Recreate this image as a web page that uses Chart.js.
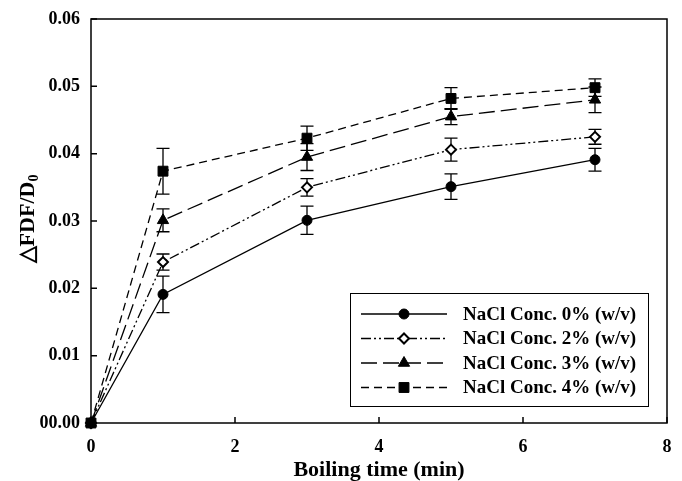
<!DOCTYPE html>
<html><head><meta charset="utf-8">
<script src="https://cdn.jsdelivr.net/npm/chart.js@4/dist/chart.umd.min.js"></script>
<style>html,body{margin:0;padding:0;background:#fff}#wrap{width:682px;height:481px;position:relative}</style>
</head><body><div id="wrap"><canvas id="c"></canvas></div>
<script>
// ---- data ----
const times = [0, 1, 3, 5, 7];
const seriesLabels = ['NaCl Conc. 0% (w/v)', 'NaCl Conc. 2% (w/v)', 'NaCl Conc. 3% (w/v)', 'NaCl Conc. 4% (w/v)'];
const conc0 = [0, 0.0191, 0.0301, 0.0351, 0.0391];
const conc0Err = [0, 0.0027, 0.0021, 0.0019, 0.0017];
const conc2 = [0, 0.0239, 0.0350, 0.0406, 0.0425];
const conc2Err = [0, 0.0012, 0.0013, 0.0017, 0.0011];
const conc3 = [0, 0.0301, 0.0395, 0.0455, 0.0480];
const conc3Err = [0, 0.0017, 0.0020, 0.0012, 0.0019];
const conc4 = [0, 0.0374, 0.0423, 0.0482, 0.0498];
const conc4Err = [0, 0.0034, 0.0018, 0.0016, 0.0013];
const xTickValues = [0, 2, 4, 6, 8];
const yTickValues = [0, 0.01, 0.02, 0.03, 0.04, 0.05, 0.06];
const yTickLabels = ['00.00', '0.01', '0.02', '0.03', '0.04', '0.05', '0.06'];
const xTitle = 'Boiling time (min)';
const yTitleMain = '\u25B3FDF/D';
const yTitleSub = '0';

// ---- styles ----
const SERIF = '"Liberation Serif", "Times New Roman", serif';
const styles = [
  {pointStyle: 'circle', radius: 5, fill: '#000', dash: []},
  {pointStyle: 'rectRot', radius: 5, fill: '#fff', dash: [10, 3, 2, 3, 2, 3]},
  {pointStyle: 'triangle', radius: 6.5, fill: '#000', dash: [16, 6]},
  {pointStyle: 'rect', radius: 7, fill: '#000', dash: [8, 5]}
];
const values = [conc0, conc2, conc3, conc4];
const errors = [conc0Err, conc2Err, conc3Err, conc4Err];

const datasets = values.map((vals, i) => ({
  label: seriesLabels[i],
  data: times.map((t, j) => ({x: t, y: vals[j]})),
  errs: errors[i],
  borderColor: '#000',
  borderWidth: 1.3,
  borderDash: styles[i].dash,
  pointStyle: styles[i].pointStyle,
  pointRadius: styles[i].radius,
  pointBackgroundColor: styles[i].fill,
  pointBorderColor: '#000',
  pointBorderWidth: i === 1 ? 2 : 1,
  tension: 0,
  fill: false,
  clip: false
}));

const framePlugin = {
  id: 'frame',
  beforeDatasetsDraw(chart) {
    const ctx = chart.ctx;
    const xs = chart.scales.x, ys = chart.scales.y;
    ctx.save();
    ctx.strokeStyle = '#000';
    ctx.lineWidth = 1.3;
    ctx.setLineDash([]);
    chart.data.datasets.forEach(ds => {
      ds.data.forEach((p, j) => {
        const e = ds.errs[j];
        if (!e) return;
        const x = xs.getPixelForValue(p.x);
        const y1 = ys.getPixelForValue(p.y + e);
        const y2 = ys.getPixelForValue(p.y - e);
        ctx.beginPath();
        ctx.moveTo(x, y1); ctx.lineTo(x, y2);
        ctx.moveTo(x - 6.5, y1); ctx.lineTo(x + 6.5, y1);
        ctx.moveTo(x - 6.5, y2); ctx.lineTo(x + 6.5, y2);
        ctx.stroke();
      });
    });
    ctx.restore();
  },
  afterDraw(chart) {
    const ctx = chart.ctx;
    const a = chart.chartArea;
    const xs = chart.scales.x, ys = chart.scales.y;
    ctx.save();
    ctx.strokeStyle = '#000';
    ctx.lineWidth = 1.5;
    ctx.setLineDash([]);
    ctx.strokeRect(a.left, a.top, a.right - a.left, a.bottom - a.top);
    ctx.beginPath();
    xTickValues.forEach(v => {
      const x = xs.getPixelForValue(v);
      ctx.moveTo(x, a.bottom); ctx.lineTo(x, a.bottom - 6);
    });
    yTickValues.forEach(v => {
      const y = ys.getPixelForValue(v);
      ctx.moveTo(a.left, y); ctx.lineTo(a.left + 6, y);
    });
    ctx.stroke();

    // y-axis title with subscript
    ctx.save();
    ctx.translate(28, (a.top + a.bottom) / 2 - 2);
    ctx.rotate(-Math.PI / 2);
    ctx.fillStyle = '#000';
    const fMain = 'bold 22px ' + SERIF, fSub = 'bold 14px ' + SERIF;
    ctx.font = fMain;
    const w1 = ctx.measureText(yTitleMain).width;
    ctx.font = fSub;
    const w2 = ctx.measureText(yTitleSub).width;
    const start = -(w1 + w2) / 2;
    ctx.textBaseline = 'middle';
    ctx.textAlign = 'left';
    ctx.font = fMain;
    ctx.fillText(yTitleMain, start, 0);
    ctx.font = fSub;
    ctx.fillText(yTitleSub, start + w1, 6);
    ctx.restore();

    // legend
    const L = {x: 350.5, y: 293.5, w: 298, h: 113};
    ctx.lineWidth = 1;
    ctx.strokeRect(L.x, L.y, L.w, L.h);
    chart.data.datasets.forEach((ds, i) => {
      const y = L.y + 20.5 + i * 24.5;
      ctx.save();
      ctx.strokeStyle = '#000';
      ctx.lineWidth = 1.3;
      ctx.setLineDash(styles[i].dash);
      ctx.beginPath();
      ctx.moveTo(361, y); ctx.lineTo(447, y);
      ctx.stroke();
      ctx.setLineDash([]);
      ctx.fillStyle = styles[i].fill;
      ctx.strokeStyle = '#000';
      ctx.lineWidth = ds.pointBorderWidth;
      Chart.helpers.drawPoint(ctx, {pointStyle: styles[i].pointStyle, radius: styles[i].radius, rotation: 0, borderWidth: ds.pointBorderWidth}, 404, y);
      ctx.restore();
      ctx.fillStyle = '#000';
      ctx.font = 'bold 19px ' + SERIF;
      ctx.textBaseline = 'middle';
      ctx.textAlign = 'left';
      ctx.fillText(ds.label, 463, y + 1);
    });
    ctx.restore();
  }
};

new Chart(document.getElementById('c'), {
  type: 'line',
  data: {datasets},
  options: {
    responsive: true,
    maintainAspectRatio: false,
    animation: false,
    devicePixelRatio: 1,
    layout: {padding: {top: 19, right: 15, left: 0, bottom: 0}},
    plugins: {legend: {display: false}, tooltip: {enabled: false}, title: {display: false}},
    scales: {
      x: {
        type: 'linear', min: 0, max: 8,
        afterBuildTicks: s => { s.ticks = xTickValues.map(v => ({value: v})); },
        afterFit: s => { s.height = 58; s.paddingLeft = 0; s.paddingRight = 0; },
        grid: {display: false, drawTicks: false},
        border: {display: false},
        ticks: {color: '#000', padding: 14, font: {family: SERIF, size: 18, weight: 'bold'}, callback: v => String(v)},
        title: {display: true, text: xTitle, color: '#000', padding: {top: 0, bottom: -3}, font: {family: SERIF, size: 22, weight: 'bold'}}
      },
      y: {
        type: 'linear', min: 0, max: 0.06,
        afterBuildTicks: s => { s.ticks = yTickValues.map(v => ({value: v})); },
        afterFit: s => { s.width = 91; s.paddingTop = 0; s.paddingBottom = 0; },
        grid: {display: false, drawTicks: false},
        border: {display: false},
        ticks: {color: '#000', padding: 11, font: {family: SERIF, size: 18, weight: 'bold'},
          callback: v => yTickLabels[yTickValues.findIndex(t => Math.abs(t - v) < 1e-9)]}
      }
    }
  },
  plugins: [framePlugin]
});
</script>
</body></html>
